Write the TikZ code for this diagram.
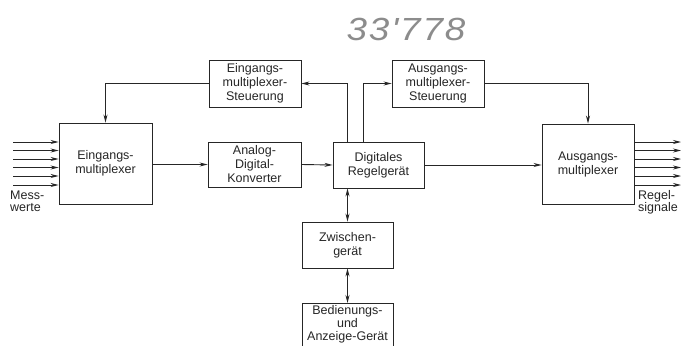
\documentclass[tikz,border=0pt]{standalone}
\usepackage{fontspec}
\setmainfont{Liberation Sans}
\newfontfamily\handfont[FakeStretch=1.15, LetterSpace=6]{Liberation Sans}
\usetikzlibrary{arrows.meta}
\definecolor{ink}{gray}{0.15}
\definecolor{pencil}{gray}{0.55}
\tikzset{
  blk/.style={draw=ink, line width=0.9pt, rectangle, inner sep=0pt, align=center,
    font=\fontsize{12.5}{14}\selectfont, text=ink},
  conn/.style={draw=ink, line width=0.9pt, -{Stealth[length=8pt,width=4pt]}},
  biconn/.style={draw=ink, line width=0.9pt, {Stealth[length=8pt,width=4pt]}-{Stealth[length=8pt,width=4pt]}},
  lbl/.style={align=left, inner sep=0pt, font=\fontsize{12.5}{12}\selectfont, text=ink},
}
\begin{document}
\begin{tikzpicture}[x=1pt,y=-1pt]
\useasboundingbox (0,0) rectangle (687,345);
\fill[white] (0,0) rectangle (687,345);
\node[text=pencil, font=\handfont\itshape\fontsize{32}{32}\selectfont] (num) at (406,29) {33'778};

\node[blk, minimum width=92pt, minimum height=47pt] (ES) at (255,83.5) {Eingangs-\\multiplexer-\\Steuerung};
\node[blk, minimum width=92pt, minimum height=47pt] (AS) at (438,83.5) {Ausgangs-\\multiplexer-\\Steuerung};
\node[blk, minimum width=93pt, minimum height=81pt] (EM) at (105.5,163.5) {Eingangs-\\multiplexer};
\node[blk, minimum width=93pt, minimum height=45pt] (ADK) at (254.5,164.5) {Analog-\\Digital-\\Konverter};
\node[blk, minimum width=91pt, minimum height=46pt] (DR) at (378.5,165) {Digitales\\Regelgerät};
\node[blk, minimum width=92pt, minimum height=80pt] (AM) at (588,164) {Ausgangs-\\multiplexer};
\node[blk, minimum width=91pt, minimum height=46pt] (ZW) at (347.5,245) {Zwischen-\\gerät};
\node[blk, minimum width=91pt, minimum height=60pt, anchor=north, text depth=0pt] (BED) at (347.5,303) {};
\node[lbl, align=center, anchor=north, font=\fontsize{12.5}{13}\selectfont] (BEDt) at (347.5,305) {Bedienungs-\\und\\Anzeige-Gerät};

% connectors
\draw[conn] (ES.west) -| (EM.north);
\draw[conn] (DR.north -| ZW.north) |- (ES.east);
\draw[conn] ([xshift=-15.5pt]DR.north) |- (AS.west);
\draw[conn] (AS.east) -| (AM.north);
\draw[conn] (EM.east |- ADK.west) -- (ADK.west);
\draw[conn] (ADK.east) -- (DR.west);
\draw[conn] (DR.east) -- (DR.east -| AM.west);
\draw[biconn] (DR.south -| ZW.north) -- (ZW.north);
\draw[biconn] (ZW.south) -- (BED.north);

% inputs and outputs
\foreach \i/\yy in {1/142,2/150.5,3/159,4/167.5,5/176,6/185}{
  \coordinate (in\i) at (13,\yy);
  \draw[conn] (in\i) -- (in\i -| EM.west);
  \coordinate (out\i) at (681,\yy);
  \draw[conn] (out\i -| AM.east) -- (out\i);
}
\node[lbl, anchor=north west] (mess) at (10,191) {Mess-\\werte};
\node[lbl, anchor=north west] (regel) at (638,190) {Regel-\\signale};
\end{tikzpicture}
\end{document}
